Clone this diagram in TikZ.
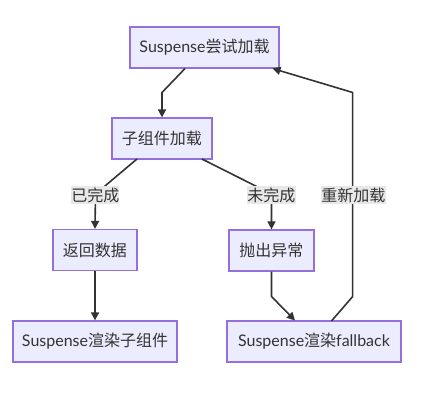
\documentclass[tikz,border=0pt]{standalone}
\usepackage{fontspec}
\setmainfont{Noto Sans CJK SC}
\newfontfamily\lat{Lato}
\usetikzlibrary{arrows.meta}
\definecolor{nodefill}{HTML}{ECECFF}
\definecolor{nodeedge}{HTML}{9370DB}
\definecolor{ink}{HTML}{333333}
\definecolor{lblbg}{HTML}{E8E8E8}
\begin{document}
\begin{tikzpicture}[x=0.75pt,y=-0.75pt,
  box/.style={draw=nodeedge,line width=0.9pt,fill=nodefill,inner sep=0pt,text=ink,font=\fontsize{12}{14}\selectfont,minimum height=30.75pt},
  lbl/.style={fill=lblbg,inner sep=0pt,text=ink,font=\fontsize{12}{14}\selectfont,minimum height=13.5pt},
  edge/.style={draw=ink,line width=1.2pt,line join=round},
  arr/.style={edge,-{Triangle[length=6pt,width=6pt]}}]
\useasboundingbox (0,0) rectangle (437,402);
\fill[white] (0,0) rectangle (437,402);
% nodes
\node[box,minimum width=111.75pt] (A) at (204.5,47.5) {{\lat Suspense}尝试加载};
\node[box,minimum width=75pt] (B) at (162,138.5) {子组件加载};
\node[box,minimum width=63pt] (C) at (95,250) {返回数据};
\node[box,minimum width=63.75pt] (D) at (271.5,250.5) {抛出异常};
\node[box,minimum width=123pt] (E) at (95,341.5) {{\lat Suspense}渲染子组件};
\node[box,minimum width=130.5pt] (F) at (314,341.5) {{\lat Suspense}渲染{\lat fallback}};
% connector points
\coordinate (a1) at (185,68.5);
\coordinate (a2) at (162,92.5);
\coordinate (b1) at (137,159);
\coordinate (b2) at (95.5,194);
\coordinate (b3) at (202,159);
\coordinate (b4) at (271.5,194);
\coordinate (d1) at (271.5,296.5);
\coordinate (f0) at (295,320.5);
\coordinate (f1) at (331.5,321);
\coordinate (f2) at (352.7,296.5);
\coordinate (f3) at (352.7,92.5);
\coordinate (a3) at (272.5,68.5);
% edges
\draw[arr] (a1) -- (a2) -- (B.north);
\draw[arr] (b1) -- (b2) -- (C.north);
\draw[arr] (b3) -- (b4) -- (D.north);
\draw[arr] (C.south) -- (E.north);
\draw[arr] (D.south) -- (d1) -- (f0);
\draw[arr] (f1) -- (f2) -- (f3) -- (a3);
% labels
\node[lbl,minimum width=35.25pt] (L1) at (95.5,195) {已完成};
\node[lbl,minimum width=36.75pt] (L2) at (271.5,195) {未完成};
\node[lbl,minimum width=48.75pt] (L3) at (353.5,195) {重新加载};
\end{tikzpicture}
\end{document}
